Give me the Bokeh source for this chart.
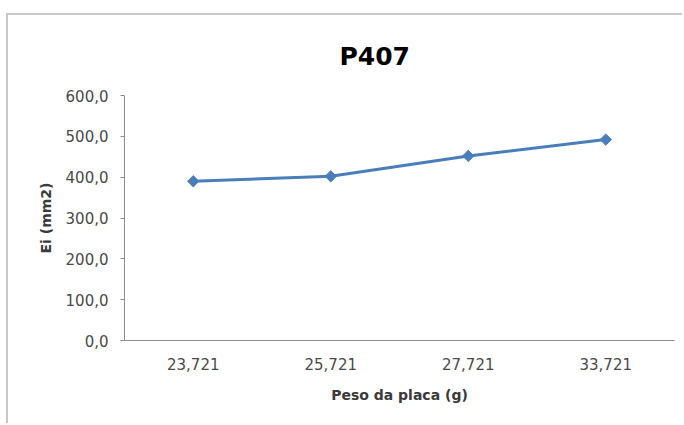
import math
from bokeh.plotting import figure
from bokeh.models import FactorRange, Range1d, FixedTicker, CustomJSTickFormatter, ColumnDataSource
from bokeh.embed import file_html
from bokeh.resources import INLINE

# Plate weight categories (g) and measured Ei (mm2)
peso_placa = ["23,721", "25,721", "27,721", "33,721"]
ei_mm2 = [390.0, 402.0, 452.0, 492.0]
y_ticks = [0, 100, 200, 300, 400, 500, 600]

source = ColumnDataSource(data=dict(x=peso_placa, y=ei_mm2))

p = figure(
    width=676, height=410,
    x_range=FactorRange(*peso_placa, range_padding=0),
    y_range=Range1d(0, 600),
    output_backend="svg", toolbar_location=None,
    min_border_left=116, min_border_right=10,
    min_border_bottom=85, min_border_top=80,
    margin=(13, 0, 0, 6),
    styles={"border-top": "2px solid #c8c8c8", "border-left": "2px solid #c8c8c8"},
)
p.outline_line_color = None
p.xgrid.visible = False
p.ygrid.visible = False
p.background_fill_color = "white"
p.border_fill_color = "white"

p.title.text = "P407"
p.title.text_font = "DejaVu Sans"
p.title.text_font_style = "bold"
p.title.text_font_size = "25px"
p.title.text_color = "black"
p.title.align = "left"
p.title.offset = 215
p.title.standoff = 49

line_color = "#4a7ebb"
p.line("x", "y", source=source, line_color=line_color, line_width=3)
p.scatter("x", "y", source=source, marker="square", size=8, angle=math.pi / 4,
          fill_color=line_color, line_color=line_color, line_width=1)

axis_gray = "#8c8c8c"
label_gray = "#4a4a4a"

xa = p.xaxis[0]
xa.axis_label = "Peso da placa (g)"
xa.axis_label_text_font = "DejaVu Sans"
xa.axis_label_text_font_style = "bold"
xa.axis_label_text_font_size = "14px"
xa.axis_label_text_color = "#3a3a3a"
xa.axis_label_standoff = 14
xa.major_label_text_font = "DejaVu Sans"
xa.major_label_text_font_size = "15px"
xa.major_label_text_color = label_gray
xa.major_label_standoff = 17
xa.major_tick_out = 0
xa.major_tick_in = 0
xa.major_tick_line_color = None
xa.axis_line_color = axis_gray
xa.axis_line_width = 1

ya = p.yaxis[0]
ya.ticker = FixedTicker(ticks=y_ticks)
ya.formatter = CustomJSTickFormatter(code="return tick.toFixed(1).replace('.', ',');")
ya.axis_label = "Ei (mm2)"
ya.axis_label_text_font = "DejaVu Sans"
ya.axis_label_text_font_style = "bold"
ya.axis_label_text_font_size = "14px"
ya.axis_label_text_color = "#3a3a3a"
ya.axis_label_standoff = 9
ya.major_label_text_font = "DejaVu Sans"
ya.major_label_text_font_size = "15px"
ya.major_label_text_color = label_gray
ya.major_label_standoff = 12
ya.major_tick_out = 4
ya.major_tick_in = 0
ya.major_tick_line_color = axis_gray
ya.minor_tick_line_color = None
ya.axis_line_color = axis_gray
ya.axis_line_width = 1

open("out.html", "w").write(file_html(p, INLINE))
